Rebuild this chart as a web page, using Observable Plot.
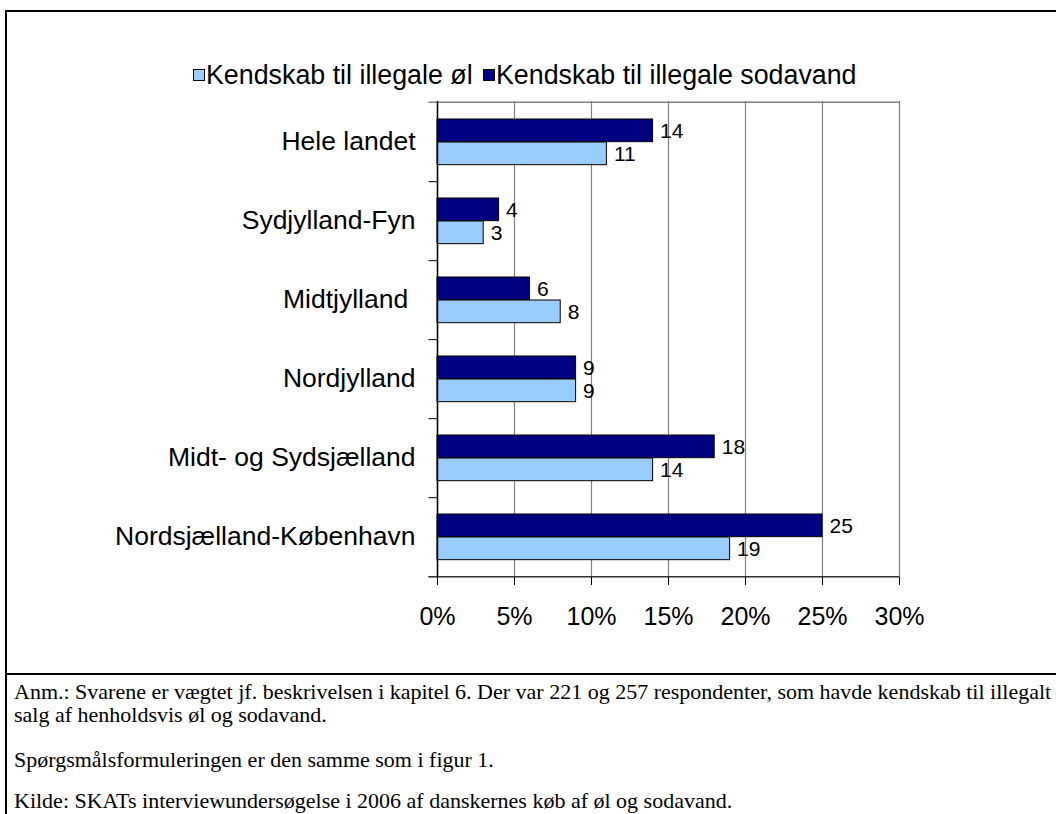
<!DOCTYPE html>
<html>
<head>
<meta charset="utf-8">
<script src="https://cdn.jsdelivr.net/npm/d3@7"></script>
<script src="https://cdn.jsdelivr.net/npm/@observablehq/plot@0.6"></script>
<style>
  html, body { margin: 0; padding: 0; background: #fff; }
  #page { position: relative; width: 1056px; height: 814px; overflow: hidden; background: #fff; }
  .line { position: absolute; background: #000; }
  .leg { position: absolute; font-family: "Liberation Sans", Arial, sans-serif; font-size: 26.8px; line-height: 30px; white-space: nowrap; color: #000; }
  .sw { position: absolute; width: 10px; height: 10px; border: 1px solid #000; }
  .foot { position: absolute; left: 14px; font-family: "Liberation Serif", "Times New Roman", serif; font-size: 22px; line-height: 23px; white-space: nowrap; color: #000; }
  #chart { position: absolute; left: 0; top: 0; }
</style>
</head>
<body>
<div id="page">
  <div class="line" style="left:5px;top:10px;width:1051px;height:2px"></div>
  <div class="line" style="left:5px;top:10px;width:2px;height:804px"></div>
  <div class="line" style="left:5px;top:673px;width:1051px;height:2px"></div>
  <div id="chart"></div>
  <div id="legend"></div>
  <div id="footer"></div>
</div>
<script>
const regions = ["Hele landet", "Sydjylland-Fyn", "Midtjylland ", "Nordjylland", "Midt- og Sydsjælland", "Nordsjælland-København"];
const series = ["Kendskab til illegale øl", "Kendskab til illegale sodavand"];
const colors = ["#99CCFF", "#000080"];
const beer = [11, 3, 8, 9, 14, 19];
const soda = [14, 4, 6, 9, 18, 25];
const xTicks = [0, 5, 10, 15, 20, 25, 30];
const footLines = [
  "Anm.: Svarene er vægtet jf. beskrivelsen i kapitel 6. Der var 221 og 257 respondenter, som havde kendskab til illegalt",
  "salg af henholdsvis øl og sodavand.",
  "Spørgsmålsformuleringen er den samme som i figur 1.",
  "Kilde: SKATs interviewundersøgelse i 2006 af danskernes køb af øl og sodavand."
];

const beerData = regions.map((r, i) => ({region: r, value: beer[i]}));
const sodaData = regions.map((r, i) => ({region: r, value: soda[i]}));

const W = 1056, H = 680;
const mT = 101, mB = H - 577, mL = 437, mR = W - 899;
const step = (H - mT - mB) / regions.length;

const chart = Plot.plot({
  width: W, height: H,
  marginTop: mT, marginBottom: mB, marginLeft: mL, marginRight: mR,
  style: {fontFamily: "'Liberation Sans', Arial, sans-serif", fontSize: "25px", color: "#000", background: "transparent", overflow: "visible"},
  x: {domain: [0, 30], ticks: xTicks, tickFormat: d => d + "%", label: null},
  y: {domain: regions, padding: 0, label: null},
  marks: [
    Plot.gridX(xTicks, {stroke: "#808080", strokeOpacity: 1, strokeWidth: 1.2}),
    Plot.ruleY([regions[0]], {x1: -0.55, x2: 30, dy: -step / 2, stroke: "#808080", strokeWidth: 1.5}),
    Plot.barX(sodaData, {x: "value", y: "region", fill: colors[1], stroke: "#000", strokeWidth: 1, insetTop: 17, insetBottom: step - 40}),
    Plot.barX(beerData, {x: "value", y: "region", fill: colors[0], stroke: "#000", strokeWidth: 1, insetTop: 40, insetBottom: step - 63}),
    Plot.text(sodaData, {x: "value", y: "region", text: d => String(d.value), dx: 7, dy: -11, textAnchor: "start", fontSize: 21, fill: "#000"}),
    Plot.text(beerData, {x: "value", y: "region", text: d => String(d.value), dx: 7, dy: 12, textAnchor: "start", fontSize: 21, fill: "#000"}),
    Plot.ruleY(regions, {x1: -0.55, x2: 0, dy: step / 2, stroke: "#000", strokeWidth: 1}),
    Plot.ruleY([regions[regions.length - 1]], {x1: -0.55, x2: 30, dy: step / 2, stroke: "#333", strokeWidth: 1.5}),
    Plot.ruleX([0], {stroke: "#000", strokeWidth: 1.5}),
    Plot.axisX({ticks: xTicks, tickFormat: d => d + "%", tickSize: 8, tickPadding: 22, fontSize: 25, stroke: "#000", label: null}),
    Plot.axisY({tickSize: 0, tickPadding: 22, fontSize: 26.5, label: null, tickFormat: d => d.replace(/ $/, "\u00a0")})
  ]
});
document.getElementById("chart").appendChild(chart);

// legend
const legend = document.getElementById("legend");
const legPos = [{sq: 193, tx: 206}, {sq: 483, tx: 496}];
series.forEach((s, i) => {
  const sw = document.createElement("div");
  sw.className = "sw";
  sw.style.left = legPos[i].sq + "px";
  sw.style.top = "69px";
  sw.style.background = colors[i];
  legend.appendChild(sw);
  const t = document.createElement("div");
  t.className = "leg";
  t.style.left = legPos[i].tx + "px";
  t.style.top = "60px";
  t.textContent = s;
  legend.appendChild(t);
});

// footer
const footer = document.getElementById("footer");
const footTops = [680, 703, 748, 789];
footLines.forEach((l, i) => {
  const d = document.createElement("div");
  d.className = "foot";
  d.style.top = footTops[i] + "px";
  d.textContent = l;
  footer.appendChild(d);
});
</script>
</body>
</html>
